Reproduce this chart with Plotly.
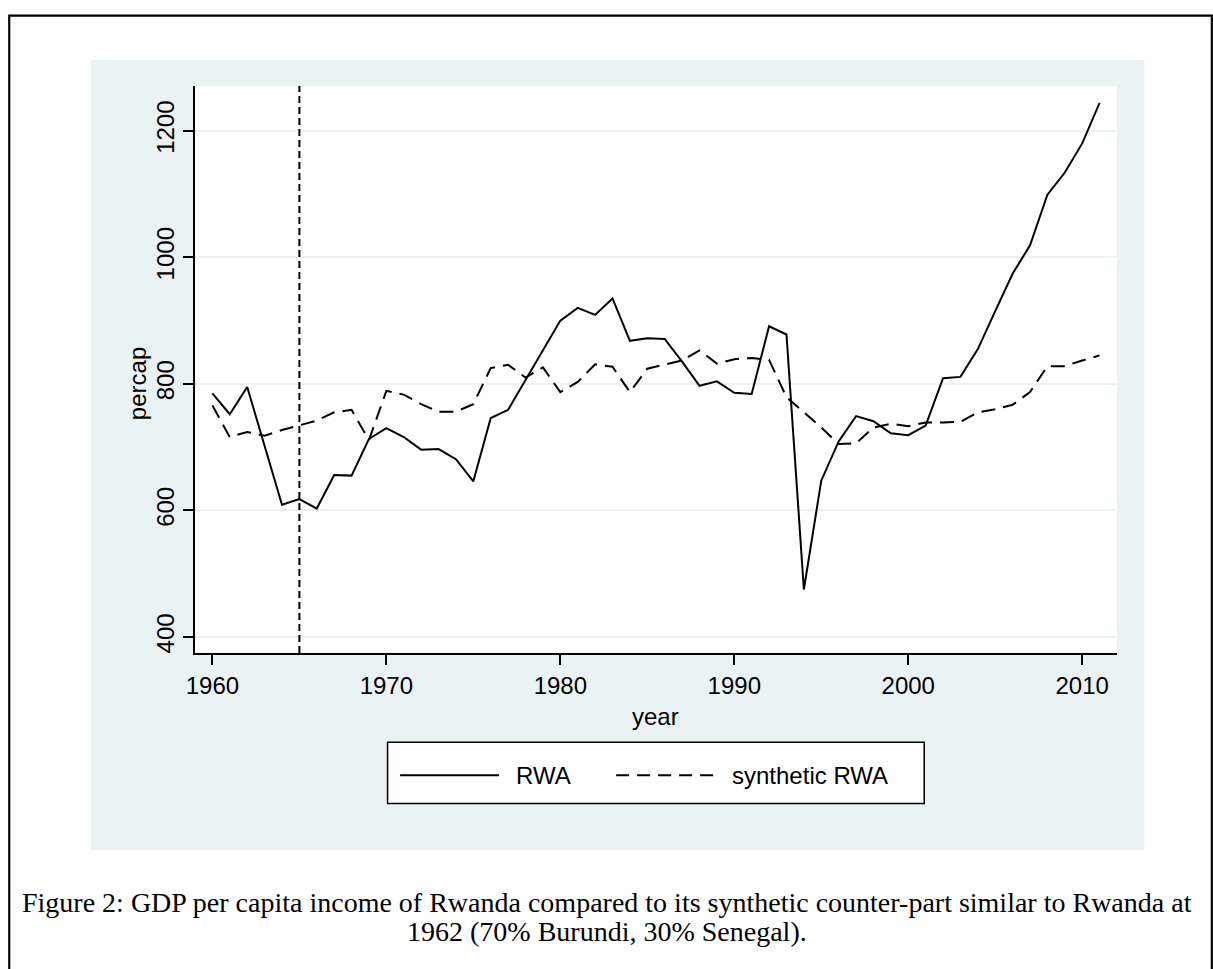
import plotly.graph_objects as go

# ---- data -------------------------------------------------------------
years = list(range(1960, 2012))

rwa = [785, 752, 795, 702, 609, 618, 603, 656, 655, 713,
       730, 716, 696, 697, 681, 646, 746, 759, 806, 853,
       900, 920, 909, 935, 868, 872, 871, 835, 797, 804,
       786, 784, 891, 878, 475, 647, 709, 749, 741, 722,
       719, 734, 809, 811, 855, 915, 974, 1019, 1099, 1134,
       1180, 1244]

synthetic_rwa = [766, 716, 724, 718, 727, 734, 742, 755, 759, 711,
                 789, 783, 768, 756, 756, 768, 825, 830, 810, 826,
                 787, 803, 831, 827, 787, 824, 830, 837, 853, 832,
                 839, 841, 838, 779, 755, 731, 705, 706, 731, 737,
                 733, 739, 739, 740, 755, 760, 767, 787, 828, 828,
                 837, 845]

treatment_year = 1965
x_ticks = [1960, 1970, 1980, 1990, 2000, 2010]
y_ticks = [400, 600, 800, 1000, 1200]

series_names = ["RWA", "synthetic RWA"]
x_title = "year"
y_title = "percap"
caption_lines = [
    "Figure 2: GDP per capita income of Rwanda compared to its synthetic counter-part similar to Rwanda at",
    "1962 (70% Burundi, 30% Senegal).",
]

# ---- page geometry (pixels) ------------------------------------------
PAGE_W, PAGE_H = 1213, 969
L, R, T, B = 195, 1116.7, 86, 652.7
W, H = R - L, B - T

def px(x):
    return (x - L) / W

def py(y):
    return (B - y) / H

BG = "#EAF2F3"
SANS = "Liberation Sans, Arial, Helvetica, sans-serif"
SERIF = "Liberation Serif, Times New Roman, serif"
FS = 24

fig = go.Figure()
fig.add_trace(go.Scatter(x=years, y=rwa, mode="lines", name=series_names[0],
                         line=dict(color="black", width=2)))
fig.add_trace(go.Scatter(x=years, y=synthetic_rwa, mode="lines", name=series_names[1],
                         line=dict(color="black", width=2, dash="14px,8px")))

shapes = [
    # graph region
    dict(type="rect", xref="paper", yref="paper", x0=px(91), x1=px(1144),
         y0=py(849.6), y1=py(60), fillcolor=BG, line=dict(width=0), layer="below"),
    # plot region
    dict(type="rect", xref="paper", yref="paper", x0=0, x1=1, y0=0, y1=1,
         fillcolor="white", line=dict(width=0), layer="below"),
    # page frame
    dict(type="rect", xref="paper", yref="paper", x0=px(9.3), x1=px(1211.5),
         y0=py(990), y1=py(15.7), fillcolor="rgba(0,0,0,0)",
         line=dict(color="black", width=2.2), layer="above"),
    # treatment year marker
    dict(type="line", xref="x", yref="paper", x0=treatment_year, x1=treatment_year,
         y0=0, y1=1, line=dict(color="black", width=2, dash="7px,4px"), layer="above"),
    # legend box and keys
    dict(type="rect", xref="paper", yref="paper", x0=px(387.5), x1=px(924),
         y0=py(803), y1=py(742), fillcolor="white",
         line=dict(color="black", width=1.5), layer="above"),
    dict(type="line", xref="paper", yref="paper", x0=px(400), x1=px(499),
         y0=py(775), y1=py(775), line=dict(color="black", width=2), layer="above"),
    dict(type="line", xref="paper", yref="paper", x0=px(616), x1=px(715),
         y0=py(775), y1=py(775), line=dict(color="black", width=2, dash="13px,8px"),
         layer="above"),
]

annotations = [
    dict(text=series_names[0], xref="paper", yref="paper", x=px(514), y=py(775),
         xanchor="left", yanchor="middle", showarrow=False,
         font=dict(family=SANS, size=FS, color="black")),
    dict(text=series_names[1], xref="paper", yref="paper", x=px(730), y=py(775),
         xanchor="left", yanchor="middle", showarrow=False,
         font=dict(family=SANS, size=FS, color="black")),
    dict(text=x_title, xref="paper", yref="paper", x=px(655.8), y=py(716),
         xanchor="center", yanchor="middle", showarrow=False,
         font=dict(family=SANS, size=FS, color="black")),
    dict(text=y_title, xref="paper", yref="paper", x=px(137), y=py(383),
         xanchor="center", yanchor="middle", showarrow=False, textangle=-90,
         font=dict(family=SANS, size=FS, color="black")),
    dict(text=caption_lines[0], xref="paper", yref="paper", x=px(607), y=py(902),
         xanchor="center", yanchor="middle", showarrow=False,
         font=dict(family=SERIF, size=28, color="black")),
    dict(text=caption_lines[1], xref="paper", yref="paper", x=px(607), y=py(931),
         xanchor="center", yanchor="middle", showarrow=False,
         font=dict(family=SERIF, size=28, color="black")),
]

fig.update_layout(
    width=PAGE_W, height=PAGE_H,
    margin=dict(l=L, r=PAGE_W - R, t=T, b=PAGE_H - B, pad=0),
    paper_bgcolor="white", plot_bgcolor="white",
    showlegend=False, hovermode=False,
    shapes=shapes, annotations=annotations,
    font=dict(family=SANS, size=FS, color="black"),
)
fig.update_xaxes(
    range=[1959, 2012], tickvals=x_ticks, ticks="outside", ticklen=10,
    tickwidth=1.8, tickcolor="black", showline=True, linecolor="black",
    linewidth=1.8, showgrid=False, zeroline=False,
    tickfont=dict(family=SANS, size=FS, color="black"),
)
fig.update_yaxes(
    range=[374.7, 1270.7], tickvals=y_ticks, tickangle=-90, ticks="outside",
    ticklen=10, tickwidth=1.8, tickcolor="black", showline=True,
    linecolor="black", linewidth=1.8, showgrid=True, gridcolor=BG, gridwidth=2,
    zeroline=False, tickfont=dict(family=SANS, size=FS, color="black"),
)

fig.write_html("out.html", config={"displayModeBar": False})
